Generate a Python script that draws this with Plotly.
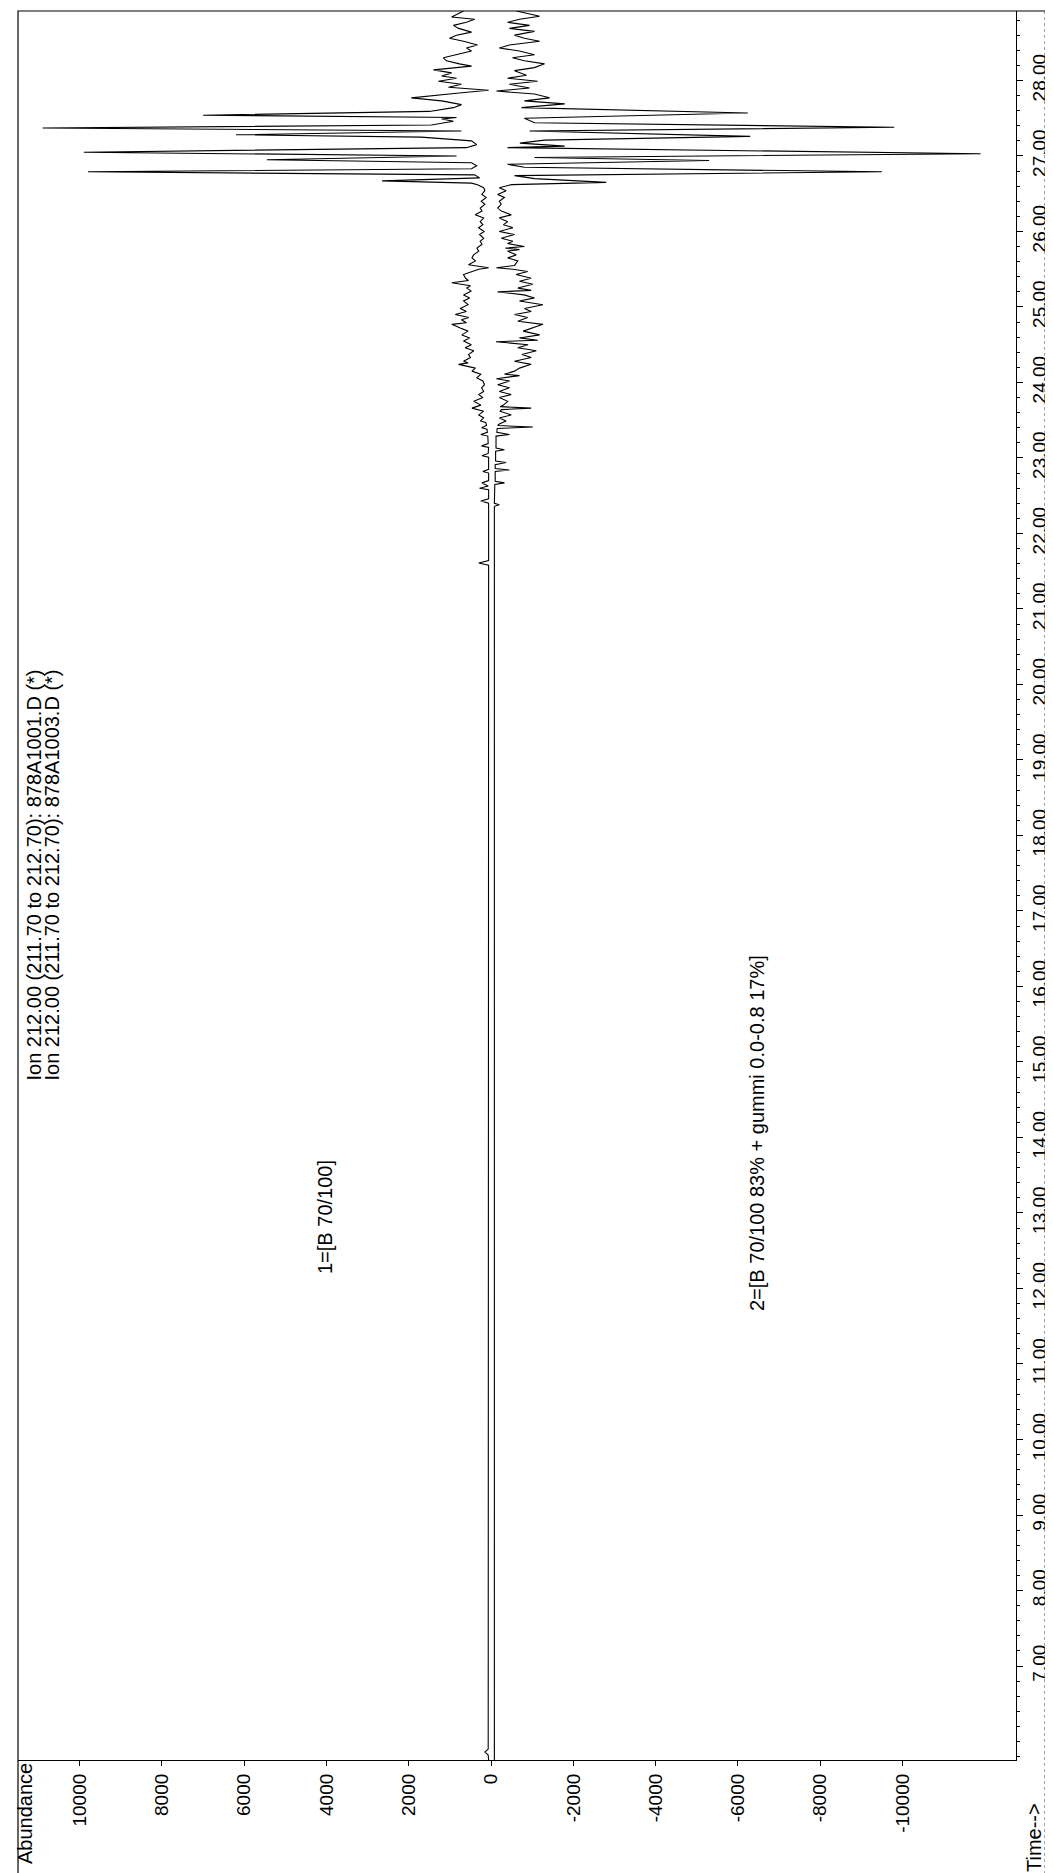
import plotly.graph_objects as go

# ---------------- data ----------------
# Series 1: Ion 212.00, 878A1001.D  (plotted upward = to the left)
time1 = [5.755, 5.82, 5.86, 5.90, 21.58, 21.61, 21.64,
         22.40, 22.43, 22.46, 22.58, 22.60, 22.63, 22.67, 22.70, 22.80, 22.82, 22.85,
         23.01, 23.03, 23.06, 23.14, 23.16, 23.19, 23.29, 23.31, 23.34, 23.38, 23.40,
         23.43, 23.47, 23.49, 23.53, 23.57, 23.62, 23.66, 23.70, 23.75, 23.80, 23.84,
         23.88, 23.93, 23.97, 24.02, 24.06, 24.11, 24.15, 24.19, 24.24, 24.26, 24.28,
         24.33, 24.37, 24.42, 24.46, 24.50, 24.55, 24.59, 24.63, 24.68, 24.72, 24.77,
         24.79, 24.83, 24.86, 24.90, 24.94, 24.98, 25.03, 25.08, 25.12, 25.16, 25.21,
         25.25, 25.28, 25.32, 25.35, 25.38, 25.43, 25.47, 25.50, 25.52, 25.54, 25.56,
         25.61, 25.65, 25.69, 25.74, 25.78, 25.83, 25.87, 25.91, 25.96, 26.00, 26.05,
         26.09, 26.13, 26.18, 26.22, 26.27, 26.31, 26.36, 26.40, 26.45, 26.49, 26.54,
         26.58, 26.62, 26.64, 26.67, 26.71, 26.75, 26.79, 26.83, 26.87, 26.91, 26.95,
         27.00, 27.05, 27.11, 27.15, 27.20, 27.25, 27.28, 27.33, 27.37, 27.41, 27.46,
         27.49, 27.51, 27.54, 27.59, 27.64, 27.68, 27.73, 27.77, 27.83, 27.87, 27.91,
         27.95, 27.99, 28.03, 28.06, 28.10, 28.14, 28.19, 28.22, 28.26, 28.30, 28.34,
         28.39, 28.43, 28.47, 28.52, 28.56, 28.60, 28.64, 28.69, 28.73, 28.77, 28.81,
         28.84, 28.92]
abund1 = [60, 70, 150, 70, 60, 300, 60,
          60, 250, 60, 60, 280, 70, 220, 60, 60, 200, 60,
          60, 220, 70, 60, 230, 70, 80, 250, 90, 100, 230,
          110, 130, 260, 180, 300, 180, 465, 250, 420, 200, 300,
          180, 230, 160, 200, 345, 250, 465, 380, 790, 560, 670,
          500, 550, 420, 630, 480, 670, 520, 710, 560, 750, 955,
          600, 720, 540, 870, 600, 750, 560, 670, 520, 670, 480,
          590, 500, 955, 550, 620, 670, 450, 300, 60, 380, 550,
          380, 465, 425, 300, 345, 220, 265, 180, 280, 170, 305,
          200, 265, 180, 385, 220, 265, 150, 240, 120, 225, 150,
          180, 330, 475, 2650, 280, 400, 9800, 475, 350, 475, 5450,
          840, 9900, 600, 350, 475, 1700, 6200, 720, 10900, 1450, 915,
          1200, 840, 7000, 1500, 915, 720, 1200, 1940, 840, 60, 1035,
          720, 1280, 840, 1200, 960, 1400, 475, 770, 1085, 1160, 840,
          475, 600, 330, 670, 1010, 840, 475, 790, 915, 600, 400,
          960, 670]

# Series 2: Ion 212.00, 878A1003.D  (mirrored, plotted downward = to the right)
time2 = [5.755, 22.36, 22.38, 22.40, 22.65, 22.67, 22.69, 22.82, 22.84, 22.86,
         22.91, 22.94, 22.96, 23.09, 23.11, 23.13, 23.29, 23.31, 23.34, 23.39,
         23.41, 23.43, 23.45, 23.49, 23.53, 23.57, 23.62, 23.64, 23.66, 23.68,
         23.70, 23.75, 23.80, 23.84, 23.88, 23.93, 23.97, 24.02, 24.05, 24.09,
         24.11, 24.15, 24.19, 24.24, 24.28, 24.33, 24.37, 24.42, 24.46, 24.50,
         24.54, 24.56, 24.59, 24.63, 24.68, 24.72, 24.77, 24.81, 24.86, 24.90,
         24.94, 24.98, 25.03, 25.08, 25.12, 25.16, 25.20, 25.22, 25.25, 25.30,
         25.34, 25.38, 25.43, 25.47, 25.50, 25.52, 25.55, 25.61, 25.65, 25.69,
         25.74, 25.76, 25.78, 25.80, 25.84, 25.87, 25.91, 25.96, 26.00, 26.05,
         26.09, 26.13, 26.18, 26.22, 26.27, 26.31, 26.36, 26.40, 26.45, 26.49,
         26.54, 26.58, 26.62, 26.65, 26.70, 26.74, 26.79, 26.85, 26.89, 26.94,
         26.98, 27.03, 27.11, 27.13, 27.17, 27.21, 27.26, 27.33, 27.38, 27.44,
         27.50, 27.57, 27.64, 27.69, 27.73, 27.77, 27.82, 27.86, 27.90, 27.95,
         27.99, 28.03, 28.07, 28.13, 28.17, 28.22, 28.26, 28.30, 28.34, 28.39,
         28.43, 28.47, 28.52, 28.56, 28.60, 28.65, 28.69, 28.73, 28.77, 28.81,
         28.85, 28.92]
abund2 = [-80, -80, -200, -80, -90, -325, -100, -100, -445, -100,
          -100, -365, -110, -110, -325, -120, -120, -445, -140, -150,
          -1015, -160, -200, -365, -200, -490, -220, -250, -975, -220,
          -300, -405, -200, -490, -200, -445, -160, -450, -130, -690,
          -330, -570, -690, -975, -570, -975, -750, -1100, -650, -900,
          -120, -1135, -690, -1180, -780, -1000, -1260, -650, -890, -570,
          -975, -810, -1260, -690, -1055, -800, -160, -975, -650, -1015,
          -690, -975, -610, -890, -530, -130, -570, -650, -405, -610,
          -400, -690, -350, -810, -400, -530, -250, -570, -200, -530,
          -300, -405, -200, -490, -250, -160, -245, -200, -325, -160,
          -365, -200, -500, -2800, -1055, -570, -9500, -810, -400, -5300,
          -1055, -11900, -400, -1790, -700, -1300, -6300, -935, -9800, -1055,
          -810, -6240, -740, -1790, -810, -1420, -1055, -130, -935, -445,
          -1130, -400, -860, -570, -1055, -1300, -810, -520, -1055, -690,
          -200, -445, -1180, -810, -570, -1055, -445, -935, -400, -690,
          -1180, -617]

abund_ticks = [10000, 8000, 6000, 4000, 2000, 0, -2000, -4000, -6000, -8000, -10000]
abund_labels = ["10000", "8000", "6000", "4000", "2000", "0",
                "-2000", "-4000", "-6000", "-8000", "-10000"]
time_ticks = [7, 8, 9, 10, 11, 12, 13, 14, 15, 16, 17, 18, 19, 20, 21, 22, 23, 24, 25, 26, 27, 28]
time_labels = ["7.00", "8.00", "9.00", "10.00", "11.00", "12.00", "13.00", "14.00",
               "15.00", "16.00", "17.00", "18.00", "19.00", "20.00", "21.00", "22.00",
               "23.00", "24.00", "25.00", "26.00", "27.00", "28.00"]

ion_line1 = "Ion 212.00 (211.70 to 212.70): 878A1001.D (*)"
ion_line2 = "Ion 212.00 (211.70 to 212.70): 878A1003.D (*)"
label1 = "1=[B 70/100]"
label2 = "2=[B 70/100 83% + gummi 0.0-0.8 17%]"

# ---------------- figure ----------------
FONT = "Liberation Sans, Arial, sans-serif"
NARROW = "Liberation Sans Narrow, Arial Narrow, Liberation Sans, Arial, sans-serif"

fig = go.Figure()
fig.add_trace(go.Scatter(x=abund1, y=time1, mode="lines",
                         line=dict(color="black", width=1.1), showlegend=False))
fig.add_trace(go.Scatter(x=abund2, y=time2, mode="lines",
                         line=dict(color="black", width=1.1), showlegend=False))

W, H = 1053, 1873
L, R, T, B = 10, 45, 3, 121
pw, ph = W - L - R, H - T - B


def px(xp):
    return (xp - L) / pw


def py(yp):
    return (H - B - yp) / ph


fig.update_layout(
    width=W, height=H,
    margin=dict(l=L, r=R, t=T, b=B),
    plot_bgcolor="white", paper_bgcolor="white",
    font=dict(family=FONT, color="black", size=19),
    xaxis=dict(range=[11500, -12760], tickmode="array", tickvals=abund_ticks,
               ticktext=abund_labels, tickangle=-90, ticks="outside", ticklen=5,
               tickcolor="black", showline=True, linecolor="black", linewidth=1.2,
               showgrid=False, zeroline=False, tickfont=dict(size=19, family=FONT)),
    yaxis=dict(range=[5.755, 28.92], side="right", tickmode="array",
               tickvals=time_ticks, ticktext=time_labels, tickangle=-90,
               ticks="outside", ticklen=6, tickcolor="black",
               minor=dict(tickmode="linear", tick0=0, dtick=0.2, ticks="outside",
                          ticklen=3, tickcolor="black"),
               showline=True, linecolor="black", linewidth=1.2,
               showgrid=False, zeroline=False,
               tickfont=dict(size=19, family=NARROW)),
)

# outer frame and dotted rule
fig.add_shape(type="rect", xref="paper", yref="paper",
              x0=0, x1=px(1048), y0=py(1866), y1=1,
              line=dict(color="black", width=1.2))
fig.add_shape(type="line", xref="paper", yref="paper",
              x0=px(1037), x1=px(1037), y0=py(1866), y1=1,
              line=dict(color="#444", width=1, dash="dot"))

def ann(text, xpix, ypix, yanchor="middle", size=20):
    fig.add_annotation(text=text, xref="paper", yref="paper",
                       x=px(xpix), y=py(ypix), xanchor="center", yanchor=yanchor,
                       textangle=-90, showarrow=False,
                       font=dict(size=size, family=FONT, color="black"))

ann("Abundance", 17, 1806)
ann("Time-->", 1026, 1830)
ann(ion_line1, 25, 1075, yanchor="bottom")
ann(ion_line2, 43, 1075, yanchor="bottom")
ann(label1, 317, 1268, yanchor="bottom")
ann(label2, 749, 1305, yanchor="bottom")

fig.write_html("out.html")
